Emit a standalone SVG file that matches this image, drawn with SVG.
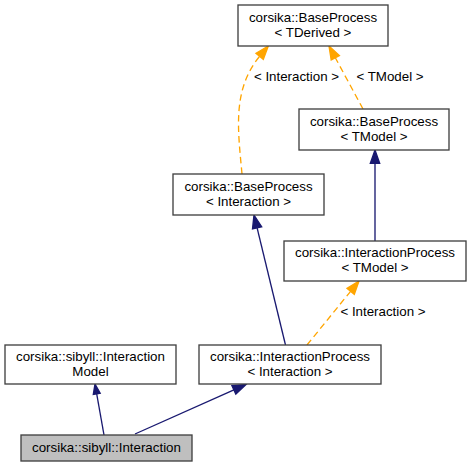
<svg xmlns="http://www.w3.org/2000/svg" width="472" height="467" viewBox="0 0 472 467">
<style>
.box{fill:#ffffff;stroke:#404040;stroke-width:1.33}
.cur{fill:#bfbfbf;stroke:#404040;stroke-width:1.33}
text{font-family:"Liberation Sans",Arial,sans-serif;font-size:13.33px;fill:#000;text-anchor:middle}
.inh{fill:none;stroke:#191970;stroke-width:1.33}
.inhh{fill:#191970;stroke:#191970;stroke-width:1.33}
.tpl{fill:none;stroke:#ffa500;stroke-width:1.33;stroke-dasharray:6.5,4}
.tplh{fill:#ffa500;stroke:#ffa500;stroke-width:1.33}
</style>
<rect width="472" height="467" fill="#ffffff"/>
<g id="connectors">
  <path class="inh" d="M104,435 L96.7,393.9"/>
  <polygon class="inhh" points="95,384 100.2,393.2 93.3,394.5"/>
  <path class="inh" d="M135,434 L233.9,389.9"/>
  <polygon class="inhh" points="246,384.5 235.8,394.2 231.9,385.6"/>
  <path class="inh" d="M285.5,345 L257.1,227.9"/>
  <polygon class="inhh" points="254,215 261.7,226.8 252.5,229"/>
  <path class="tpl" d="M307,345 L350.6,291.3"/>
  <polygon class="tplh" points="359,281 354.3,294.3 347,288.4"/>
  <path class="inh" d="M375,241 L375,163.3"/>
  <polygon class="inhh" points="375,150 379.7,163.3 370.3,163.3"/>
  <path class="tpl" d="M363,109 L335.3,57.7"/>
  <polygon class="tplh" points="329,46 339.4,55.5 331.2,59.9"/>
  <path class="tpl" d="M242,174 C238,130 232,90 259.6,56.3"/>
  <polygon class="tplh" points="268.3,46 263.3,59.3 256,53.3"/>
  <text x="296.5" y="81">&lt; Interaction &gt;</text>
  <text x="390" y="81">&lt; TModel &gt;</text>
  <text x="383" y="316">&lt; Interaction &gt;</text>
</g>
<g id="node_BaseProcess_TDerived">
  <rect class="box" x="238" y="5" width="150" height="41"/>
  <text x="313" y="21.5">corsika::BaseProcess</text>
  <text x="313" y="36.5">&lt; TDerived &gt;</text>
</g>
<g id="node_BaseProcess_TModel">
  <rect class="box" x="299" y="109" width="150" height="41"/>
  <text x="374" y="125.5">corsika::BaseProcess</text>
  <text x="374" y="140.5">&lt; TModel &gt;</text>
</g>
<g id="node_BaseProcess_Interaction">
  <rect class="box" x="173" y="174" width="151" height="41"/>
  <text x="248.5" y="190.5">corsika::BaseProcess</text>
  <text x="248.5" y="205.5">&lt; Interaction &gt;</text>
</g>
<g id="node_InteractionProcess_TModel">
  <rect class="box" x="284" y="241" width="182" height="40"/>
  <text x="375" y="257">corsika::InteractionProcess</text>
  <text x="375" y="272">&lt; TModel &gt;</text>
</g>
<g id="node_InteractionProcess_Interaction">
  <rect class="box" x="199" y="345" width="182" height="39"/>
  <text x="290" y="361">corsika::InteractionProcess</text>
  <text x="290" y="375.5">&lt; Interaction &gt;</text>
</g>
<g id="node_InteractionModel">
  <rect class="box" x="5" y="345" width="171" height="39"/>
  <text x="90.5" y="361">corsika::sibyll::Interaction</text>
  <text x="90.5" y="375.5">Model</text>
</g>
<g id="node_Interaction">
  <rect class="cur" x="21" y="435" width="171" height="26"/>
  <text x="106.5" y="452">corsika::sibyll::Interaction</text>
</g>
</svg>
